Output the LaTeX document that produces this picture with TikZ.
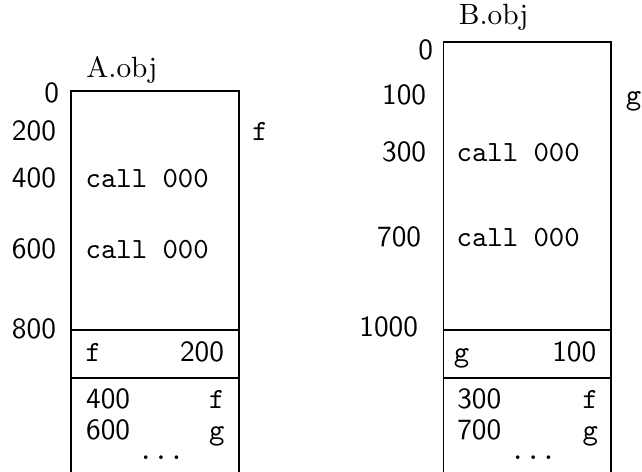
\documentclass[tikz,border=0pt]{standalone}
\usepackage{tikz}
\usetikzlibrary{positioning}
\begin{document}
\begin{tikzpicture}[
  addr/.style={font=\sffamily, anchor=east, inner sep=0pt, text height=1.5ex, text depth=.25ex},
  code/.style={font=\ttfamily, inner sep=0pt, text height=1.5ex, text depth=.25ex},
  title/.style={anchor=west, inner sep=0pt, text height=1.5ex, text depth=.25ex},
  seg/.style={line width=0.6pt}
]
  \useasboundingbox (0,0) rectangle (7.70,5.66);

  % A.obj
  \draw[seg] (0.85,0) -- (0.85,4.57) -- (2.87,4.57) -- (2.87,0);
  \draw[seg] (0.85,1.70) rectangle (2.87,1.13);
  \node[title] (titleA) at (1.03,4.82) {A.obj};
  \node[addr] (addrA0) at (0.714,4.524) {0};
  \foreach \y/\t in {4.074/200, 3.51/400, 2.658/600, 1.692/800}
    \node[addr] (addrA\t) at (0.678,\y) {\t};
  \node[code, anchor=west] (symA) at (3.02,4.074) {f};
  \node[code, anchor=west] (callA1) at (1.02,3.51) {call 000};
  \node[code, anchor=west] (callA2) at (1.02,2.658) {call 000};

  % symbol table and relocations of A
  \node[code, anchor=west] (tabA) at (1.02,1.42) {f};
  \node[addr] (tabAv) at (2.694,1.42) {200};
  \node[addr, anchor=west] (relA1) at (1.026,0.86) {400};
  \node[code, anchor=east] (relA1s) at (2.70,0.86) {f};
  \node[addr, anchor=west] (relA2) at (1.026,0.48) {600};
  \node[code, anchor=east] (relA2s) at (2.70,0.48) {g};
  \node[code] (dotsA) at (1.932,0.24) {...};

  % B.obj
  \draw[seg] (5.32,0) -- (5.32,5.16) -- (7.33,5.16) -- (7.33,0);
  \draw[seg] (5.32,1.70) rectangle (7.33,1.13);
  \node[title] (titleB) at (5.496,5.46) {B.obj};
  \node[addr] (addrB0) at (5.20,5.046) {0};
  \foreach \x/\y/\t in {5.118/4.506/100, 5.118/3.822/300, 5.058/2.802/700, 5.02/1.722/1000}
    \node[addr] (addrB\t) at (\x,\y) {\t};
  \node[code, anchor=west] (symB) at (7.50,4.506) {g};
  \node[code, anchor=west] (callB1) at (5.47,3.822) {call 000};
  \node[code, anchor=west] (callB2) at (5.47,2.802) {call 000};

  % symbol table and relocations of B
  \node[code, anchor=west] (tabB) at (5.436,1.42) {g};
  \node[addr] (tabBv) at (7.158,1.42) {100};
  \node[addr, anchor=west] (relB1) at (5.478,0.86) {300};
  \node[code, anchor=east] (relB1s) at (7.18,0.86) {f};
  \node[addr, anchor=west] (relB2) at (5.478,0.48) {700};
  \node[code, anchor=east] (relB2s) at (7.18,0.48) {g};
  \node[code] (dotsB) at (6.396,0.24) {...};
\end{tikzpicture}
\end{document}
